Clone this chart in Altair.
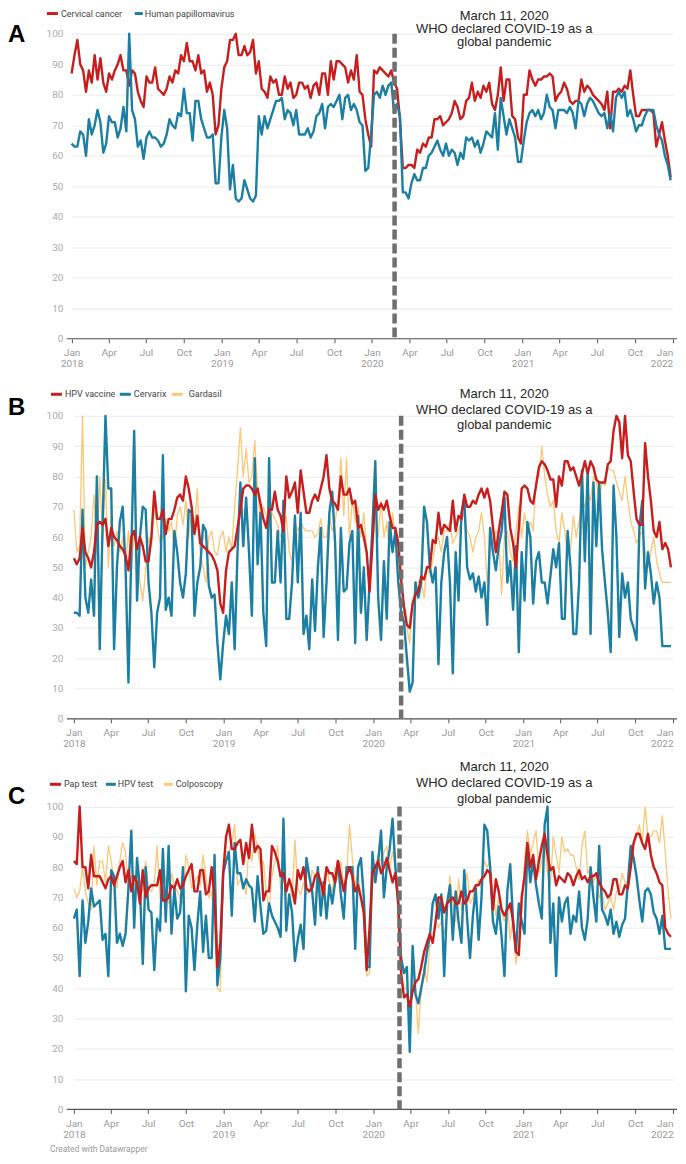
import altair as alt
import pandas as pd

# ---------------- data (weekly search interest, first week of Jan 2018 onward) ----------------
START_DATE = "2018-01-01"

a_names = ["Cervical cancer", "Human papillomavirus"]
a_cervical_cancer = [
    87, 93, 98, 90, 88, 81, 88, 84, 93, 85, 92, 84, 81, 87, 85, 88, 90, 93, 88, 88,
    83, 88, 87, 81, 78, 76, 86, 84, 84, 89, 82, 81, 80, 82, 86, 84, 88, 87, 93, 91,
    97, 91, 91, 88, 93, 87, 88, 81, 84, 80, 67, 70, 82,
    89, 91, 98, 98, 100, 93, 93, 96, 93, 94, 98, 87, 91, 82, 81, 79, 86, 84, 85, 80,
    80, 86, 82, 84, 79, 80, 84, 84, 82, 83, 79, 83, 84, 80, 87, 87, 80, 91, 85, 91,
    91, 90, 89,
    84, 88, 85, 93, 81, 80, 72, 67, 63, 88, 87, 89, 88, 87, 86, 88, 84, 82, 72,
    56, 56, 57, 57, 56, 62, 61, 64, 63, 66, 66, 72, 72, 73, 70, 71, 72, 74, 78, 76,
    72, 73, 78, 79, 84, 78, 81, 79, 83, 81, 84, 77, 75, 80, 89, 78, 85, 85, 73, 72,
    66, 64, 80, 80, 88, 85, 83, 85, 85, 86, 86, 87, 86, 78, 80, 81, 84, 82, 78, 77,
    78, 78, 85, 81, 83, 82, 80, 79, 78, 77, 75, 81, 69, 81, 81, 82, 81, 83, 82, 88,
    80, 73, 73, 75, 75, 75, 75, 74, 63, 67, 71, 65, 60, 53,
]
a_human_papillomavirus = [
    64, 63, 63, 68, 67, 60, 72, 67, 70, 75, 71, 61, 64, 73, 71, 71, 66, 69, 76, 68,
    100, 75, 72, 63, 65, 59, 66, 68, 66, 66, 65, 63, 64, 67, 72, 70, 69, 74, 73, 82,
    74, 74, 65, 78, 78, 72, 69, 66, 66, 67, 51, 51, 66,
    75, 69, 49, 57, 46, 45, 46, 52, 49, 46, 45, 47, 73, 67, 73, 69, 72, 75, 78, 78,
    79, 72, 75, 74, 70, 75, 67, 67, 67, 69, 66, 68, 73, 74, 77, 69, 76, 77, 76, 78,
    80, 72, 79,
    80, 75, 77, 75, 71, 70, 55, 56, 67, 80, 81, 79, 83, 80, 83, 84, 74, 77, 73, 48,
    48, 46, 51, 54, 52, 52, 56, 56, 60, 61, 63, 65, 62, 60, 64, 60, 62, 61, 57, 61,
    59, 66, 65, 66, 63, 65, 61, 64, 68, 67, 66, 74, 62, 79, 73, 67, 72, 69, 66, 58,
    58, 65, 71, 74, 75, 73, 75, 72, 74, 80, 76, 75, 69, 75, 75, 75, 74, 76, 74, 69,
    78, 77, 73, 77, 79, 78, 76, 74, 73, 74, 69, 74, 68, 79, 81, 79, 81, 73, 75, 72,
    68, 70, 70, 73, 75, 75, 75, 70, 67, 65, 60, 57, 52,
]

b_names = ["HPV vaccine", "Cervarix", "Gardasil"]
b_hpv_vaccine = [
    53, 51, 53, 63, 55, 53, 50, 55, 64, 65, 64, 66, 57, 63, 60, 59, 57, 56, 54, 49,
    60, 62, 56, 60, 57, 52, 52, 60, 75, 66, 66, 69, 61, 66, 66, 69, 73, 74, 72, 80,
    76, 70, 61, 67, 58, 57, 56, 55, 54, 52, 49,
    38, 35, 49, 55, 56, 57, 63, 69, 76, 77, 77, 76, 74, 76, 71, 66, 63, 69, 69, 75,
    69, 67, 62, 80, 73, 75, 78, 68, 82, 75, 68, 68, 72, 74, 72, 76, 80, 87, 76, 72,
    71, 69, 80, 74,
    74, 76, 71, 72, 63, 64, 60, 55, 42, 58, 74, 69, 71, 69, 72, 67, 63, 63, 58, 46,
    37, 31, 30, 38, 41, 42, 47, 46, 50, 50, 59, 58, 68, 61, 64, 63, 62, 72, 62, 67,
    66, 74, 70, 70, 72, 71, 74, 76, 73, 76, 72, 63, 55, 62, 68, 75, 74, 63, 58, 50,
    63, 76, 77, 76, 72, 71, 77, 83, 85, 84, 82, 79, 79, 70, 80, 77, 85, 85, 82, 83,
    80, 77, 81, 85, 81, 85, 83, 79, 78, 78, 78, 84, 85, 95, 100, 98, 86, 100, 87, 85,
    75, 66, 64, 64, 91, 80, 72, 62, 60, 65, 56, 58, 56, 50,
]
b_cervarix = [
    35, 35, 34, 69, 40, 35, 46, 34, 80, 23, 64, 100, 76, 76, 23, 50, 65, 70, 50, 12,
    55, 95, 39, 60, 70, 69, 45, 35, 17, 35, 40, 87, 36, 40, 34, 62, 55, 45, 40, 48,
    69, 68, 34, 45, 50, 64, 62, 44, 40, 41, 25, 13, 25, 34, 28, 45, 23, 55, 78, 57,
    73, 55, 34, 86, 51, 68, 35, 24, 86, 45, 45, 62, 45, 72, 33, 33, 45, 67, 45, 68,
    28, 34, 23, 46, 29, 50, 63, 27, 45, 68, 75, 58, 26, 63, 42,
    43, 58, 62, 25, 67, 35, 50, 26, 45, 63, 85, 40, 26, 52, 33, 65, 55, 62, 45, 35,
    32, 20, 9, 12, 45, 40, 45, 70, 65, 50, 45, 50, 18, 45, 55, 60, 45, 15, 55, 39,
    68, 73, 50, 46, 48, 42, 47, 40, 45, 31, 63, 55, 49, 57, 62, 73, 45, 52, 36, 57,
    22, 55, 39, 65, 60, 38, 52, 55, 45, 45, 38, 47, 56, 50, 58, 33, 33, 62, 50, 28,
    28, 45, 82, 52, 82, 28, 78, 57, 78, 56, 45, 35, 22, 77, 60, 27, 48, 40, 45, 33,
    30, 26, 63, 72, 43, 55, 48, 38, 45, 40, 24, 24, 24, 24,
]
b_gardasil = [
    69, 55, 57, 100, 50, 55, 60, 74, 55, 80, 60, 79, 50, 67, 57, 62, 55, 60, 50, 62,
    48, 62, 55, 45, 39, 49, 60, 57, 70, 64, 58, 60, 66, 62, 65, 55, 67, 70, 64, 72,
    60, 69, 62, 76, 55, 50, 45, 60, 62, 55, 54, 60, 62, 55, 60, 56, 70, 82, 96, 80,
    89, 78, 80, 92, 75, 65, 70, 67, 63, 68, 66, 64, 60, 62, 67, 55, 52, 65, 62, 65,
    63, 62, 62, 62, 60, 61, 66, 60, 60, 67, 62, 65, 72, 86, 67,
    86, 60, 72, 65, 70, 60, 68, 55, 45, 55, 70, 60, 72, 60, 65, 55, 68, 60, 52, 45,
    35, 30, 25, 38, 45, 45, 45, 40, 50, 48, 52, 58, 60, 55, 62, 62, 65, 58, 60, 62,
    65, 68, 62, 60, 55, 60, 62, 68, 60, 45, 55, 58, 62, 60, 41, 60, 62, 55, 52, 62,
    70, 60, 68, 62, 65, 62, 78, 80, 90, 80, 74, 70, 72, 62, 58, 68, 62, 54, 56, 67,
    60, 65, 72, 70, 75, 72, 80, 78, 72, 78, 77, 83, 82, 82, 78, 75, 72, 80, 72, 65,
    62, 58, 60, 62, 55, 50, 55, 60, 52, 48, 45, 45, 45, 45,
]

c_names = ["Pap test", "HPV test", "Colposcopy"]
c_pap_test = [
    82, 81, 100, 80, 80, 73, 84, 77, 77, 77, 75, 73, 76, 77, 74, 77, 80, 82, 75, 79,
    72, 77, 75, 68, 79, 70, 73, 74, 74, 74, 79, 69, 69, 70, 74, 73, 76, 73, 74, 77,
    79, 81, 72, 72, 79, 79, 71, 72, 80, 70, 47, 55, 78, 90, 94, 86, 86, 88, 89, 81,
    88, 83, 94, 85, 87, 86, 69, 72, 72, 87, 85, 82, 77, 78, 72, 76, 73, 68, 79, 76,
    80, 73, 72, 73, 77, 78, 75, 71, 80, 78,
    78, 75, 82, 77, 72, 77, 80, 77, 72, 74, 70, 65, 46, 60, 78, 80, 82, 78, 80, 83,
    79, 75, 78, 68, 45, 37, 38, 34, 39, 42, 43, 47, 52, 55, 58, 55, 62, 70, 70, 65,
    68, 69, 70, 68, 68, 72, 68, 69, 72, 72, 74, 74, 76, 77, 79, 78, 66, 76, 72, 66,
    64, 66, 68, 62, 52, 51, 70, 77, 88, 80, 84, 76, 82, 87, 91, 84, 79, 80, 74, 77,
    76, 75, 78, 77, 74, 77, 79, 76, 77, 75, 77, 77, 78, 75, 73, 72, 70, 71, 76, 76,
    71, 71, 74, 73, 80, 88, 91, 91, 88, 86, 91, 84, 80, 78, 75, 74, 60, 58, 57,
]
c_hpv_test = [
    63, 66, 44, 69, 55, 62, 73, 67, 68, 69, 56, 58, 44, 79, 77, 55, 58, 54, 58, 73,
    92, 60, 83, 73, 48, 80, 66, 65, 46, 63, 59, 86, 62, 87, 58, 73, 63, 65, 80, 39,
    64, 60, 46, 61, 72, 52, 64, 50, 50, 84, 41, 50, 78, 82, 85, 64, 88, 78, 78, 73,
    76, 74, 73, 62, 77, 67, 58, 59, 68, 64, 62, 60, 57, 96, 59, 71, 65, 49, 56, 61,
    53, 83, 77, 72, 61, 80, 64, 75, 63, 74,
    68, 75, 82, 71, 63, 80, 80, 80, 53, 80, 83, 70, 47, 47, 85, 75, 82, 92, 70, 80,
    86, 96, 80, 68, 50, 45, 47, 19, 54, 38, 35, 40, 45, 52, 57, 68, 71, 63, 71, 44,
    68, 74, 56, 72, 62, 55, 79, 63, 50, 64, 73, 56, 70, 94, 92, 80, 62, 58, 67, 57,
    44, 72, 81, 62, 52, 68, 62, 58, 87, 75, 82, 74, 68, 63, 94, 100, 55, 68, 44, 70,
    62, 68, 70, 58, 64, 62, 72, 60, 56, 63, 80, 70, 62, 87, 66, 64, 61, 66, 58, 62,
    57, 61, 63, 75, 87, 83, 77, 69, 62, 72, 73, 71, 65, 63, 58, 64, 53, 53, 53,
]
c_colposcopy = [
    73, 70, 72, 80, 72, 68, 66, 87, 74, 82, 82, 75, 87, 82, 75, 73, 82, 88, 85, 73,
    77, 74, 78, 73, 72, 82, 73, 72, 75, 87, 70, 71, 77, 68, 78, 74, 72, 70, 68, 84,
    80, 73, 75, 77, 74, 84, 77, 70, 72, 60, 40, 39, 78, 85, 85, 88, 94, 74, 76, 75,
    71, 88, 82, 91, 86, 80, 82, 72, 66, 77, 82, 87, 73, 80, 72, 76, 70, 89, 73, 71,
    75, 71, 72, 79, 77, 80, 71, 76, 80, 75,
    72, 80, 76, 82, 74, 77, 94, 83, 74, 78, 70, 63, 44, 45, 74, 80, 84, 82, 85, 87,
    80, 85, 80, 63, 44, 40, 40, 30, 42, 39, 25, 40, 47, 42, 54, 55, 62, 60, 62, 58,
    64, 77, 68, 62, 76, 66, 72, 78, 68, 70, 73, 76, 73, 82, 80, 82, 72, 64, 70, 65,
    62, 68, 56, 64, 48, 55, 65, 82, 92, 84, 88, 92, 78, 82, 88, 78, 74, 90, 84, 78,
    90, 85, 86, 84, 84, 80, 76, 87, 92, 78, 80, 75, 78, 70, 72, 66, 68, 70, 66, 72,
    72, 78, 75, 74, 87, 88, 90, 94, 88, 100, 90, 90, 92, 92, 88, 97, 85, 72, 63,
]

annotation_lines = ["March 11, 2020", "WHO declared COVID-19 as a", "global pandemic"]
marker_dates = {"A": "2020-02-25", "B": "2020-03-09", "C": "2020-03-05"}
y_tick_values = list(range(0, 101, 10))
footer_text = "Created with Datawrapper"

# ---------------- styling ----------------
RED = "#c71e1d"
BLUE = "#1b7fa3"
ORANGE = "#fcc777"
W = 611
LETTER_X = -59

X_TICKS = [alt.DateTime(year=y, month=m, date=1) for y in range(2018, 2022) for m in (1, 4, 7, 10)]
X_TICKS.append(alt.DateTime(year=2022, month=1, date=1))
X_DOMAIN = [alt.DateTime(year=2018, month=1, date=1), alt.DateTime(year=2022, month=1, date=1)]
LABEL_EXPR = ("month(datum.value) == 0 ? [timeFormat(datum.value, '%b'), timeFormat(datum.value, '%Y')]"
              " : timeFormat(datum.value, '%b')")
LAST_LABEL_ALIGN = {"condition": {"test": "year(datum.value) >= 2022", "value": "right"}, "value": "center"}


def weekly(values):
    start = pd.Timestamp(START_DATE)
    return pd.DataFrame({
        "date": [start + pd.Timedelta(days=7 * i) for i in range(len(values))],
        "value": values,
    })


def one_row():
    return pd.DataFrame({"k": [0]})


def text_layer(x, y, text, **kw):
    return alt.Chart(one_row()).mark_text(**kw).encode(
        x=alt.value(x), y=alt.value(y), text=alt.value(text))


def panel(letter, names, series, colors, widths, draw_order, legend_pos, legend_y,
          letter_y, ann_ys, marker_date, height, x_range, y_range, footer_y=None):
    x_enc = alt.X(
        "date:T", title=None,
        scale=alt.Scale(domain=X_DOMAIN, range=x_range, nice=False),
        axis=alt.Axis(values=X_TICKS, grid=False, domain=False, ticks=True, tickSize=4,
                      tickColor="#555555", tickWidth=1, labelColor="#999999", labelFont="Roboto",
                      labelFontSize=10, labelPadding=5, labelLineHeight=11, labelFlush=False,
                      labelOverlap=False, labelExpr=LABEL_EXPR, labelAlign=LAST_LABEL_ALIGN),
    )
    y_enc = alt.Y(
        "value:Q", title=None,
        scale=alt.Scale(domain=[0, 100], range=y_range, nice=False, zero=True),
        axis=alt.Axis(values=y_tick_values, grid=True, gridColor="#ebebeb", gridWidth=1,
                      domain=False, ticks=False, labelColor="#aaaaaa", labelFont="Roboto",
                      labelFontSize=10, labelPadding=4),
    )
    layers = []
    base = pd.DataFrame({"date": [pd.Timestamp(START_DATE)], "value": [0]})
    layers.append(alt.Chart(base).mark_rule(color="#555555", strokeWidth=1.2).encode(
        x=alt.value(0), x2=alt.value(W), y=y_enc))
    for idx in draw_order:
        layers.append(alt.Chart(weekly(series[idx])).mark_line(
            color=colors[idx], strokeWidth=widths[idx], strokeJoin="round").encode(x=x_enc, y=y_enc))
    mdf = pd.DataFrame({"date": [pd.Timestamp(marker_date)], "value": [100], "value2": [0]})
    layers.append(alt.Chart(mdf).mark_rule(color="#6f6f6f", strokeWidth=4.5, strokeDash=[10, 4],
                                           strokeCap="butt").encode(
        x=x_enc, y=y_enc, y2=alt.Y2("value2:Q")))
    # legend
    for i, name in enumerate(names):
        x1, x2, tx = legend_pos[i]
        layers.append(alt.Chart(one_row()).mark_rule(color=colors[i], strokeWidth=3).encode(
            x=alt.value(x1), x2=alt.value(x2), y=alt.value(legend_y)))
        layers.append(text_layer(tx, legend_y, name, align="left", baseline="middle",
                                 font="Roboto", fontSize=9, color="#444444"))
    # panel letter
    layers.append(text_layer(LETTER_X, letter_y, letter, align="left", baseline="middle",
                             font="Liberation Sans", fontSize=24, fontWeight="bold", color="#000000"))
    # annotation
    for line, ly in zip(annotation_lines, ann_ys):
        layers.append(text_layer(438, ly, line, align="center", baseline="middle",
                                 font="Liberation Sans", fontSize=13, color="#262626"))
    if footer_y is not None:
        layers.append(text_layer(-17, footer_y, footer_text, align="left", baseline="middle",
                                 font="Roboto", fontSize=8.5, color="#9a9a9a"))
    return alt.layer(*layers).properties(width=W, height=height)


panel_a = panel(
    "A", a_names, [a_cervical_cancer, a_human_papillomavirus], [RED, BLUE], [2.4, 2.4], [0, 1],
    [(-20, -9, -6), (68, 76, 78)], -20.3, 1.2, [-18.3, -4.8, 8.7], marker_dates["A"], 305.4,
    [4.7, 606.7], [305.4, 0])
panel_b = panel(
    "B", b_names, [b_hpv_vaccine, b_cervarix, b_gardasil], [RED, BLUE, ORANGE], [2.4, 2.4, 1.3], [2, 1, 0],
    [(-16, -5, -2), (53, 64, 67), (105, 116, 122)], -21.6, -7.6, [-21.6, -6.0, 9.0], marker_dates["B"],
    303.4, [7, 607], [303.4, 0])
panel_c = panel(
    "C", c_names, [c_pap_test, c_hpv_test, c_colposcopy], [RED, BLUE, ORANGE], [2.4, 2.4, 1.3], [2, 1, 0],
    [(-17, -6, -3), (39, 49, 51), (97, 106, 109)], -11.6, 1.2, [-29.3, -12.9, 3.0], marker_dates["C"],
    314, [7, 607], [314, 10.7], footer_y=354)

chart = alt.vconcat(panel_a, panel_b, panel_c, spacing=76.6, bounds="flush").properties(
    padding=0
).configure_view(strokeOpacity=0)

chart.save("out.html", embed_options={"renderer": "svg", "actions": False})
